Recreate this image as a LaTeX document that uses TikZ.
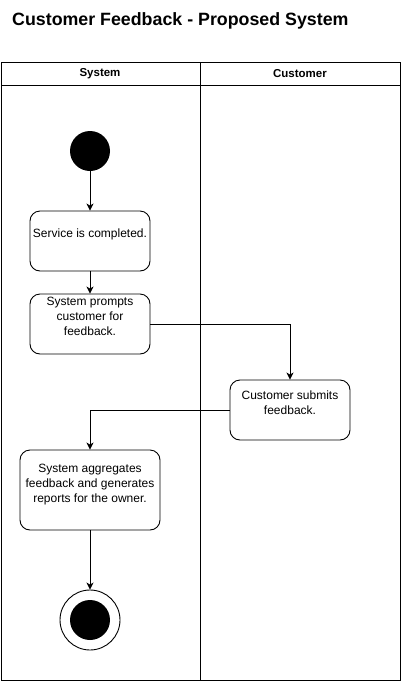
\documentclass[tikz,border=0pt]{standalone}
\usepackage{fontspec}
\setmainfont{Liberation Sans}
\usetikzlibrary{arrows.meta}

\tikzset{
  act/.style={draw, rounded corners=10pt, minimum width=120pt, minimum height=60pt, inner sep=0pt, line width=0.9pt},
  acttext/.style={align=center, font=\fontsize{12}{15}\selectfont, inner sep=0pt},
  flow/.style={-{Stealth[length=7pt,width=7pt,inset=2pt]}, line width=0.9pt},
  lanehead/.style={font=\bfseries\fontsize{11.5}{14}\selectfont, inner sep=0pt},
}

\begin{document}
\begin{tikzpicture}[x=1pt,y=-1pt]
				\useasboundingbox (0,0) rectangle (401,681);
				
				% title
				\node[anchor=west, inner sep=0pt, font=\bfseries\fontsize{17.8}{21}\selectfont] (title) at (12,20.5) {Customer Feedback - Proposed System};
				
				% pool and lanes
				\draw[line width=0.9pt] (1,62) rectangle (400,680);
				\draw[line width=0.9pt] (1,85) -- (400,85);
				\draw[line width=0.9pt] (200,62) -- (200,680);
				\node[lanehead] (sysname) at (100,73.5) {System};
				\node[lanehead] (custname) at (300,73.5) {Customer};
				
				% activities
				\node[circle, fill=black, minimum size=40pt, inner sep=0pt] (start) at (90,151) {};
				\node[act, label={[acttext,yshift=7pt]center:Service is completed.}] (svc) at (90,241) {};
				\node[act, label={[acttext,yshift=7.5pt]center:System prompts\\customer for\\feedback.}] (prompt) at (90,324) {};
				\node[act, label={[acttext,yshift=7.5pt]center:Customer submits\\feedback.}] (submit) at (290,410) {};
				\node[act, minimum width=140pt, minimum height=80pt, label={[acttext,yshift=5.5pt]center:System aggregates\\feedback and generates\\reports for the owner.}] (aggr) at (90,490) {};
				\node[circle, draw, line width=0.9pt, minimum size=60pt, inner sep=0pt] (stop) at (90,620) {};
				\node[circle, fill=black, minimum size=40pt, inner sep=0pt] (stopdot) at (stop) {};
				
				% flows
				\draw[flow] (start) -- (svc);
				\draw[flow] (svc) -- (prompt);
				\draw[flow] (prompt.east) -| (submit.north);
				\draw[flow] (submit.west) -| (aggr.north);
				\draw[flow] (aggr) -- (stop);
			\end{tikzpicture}
\end{document}
